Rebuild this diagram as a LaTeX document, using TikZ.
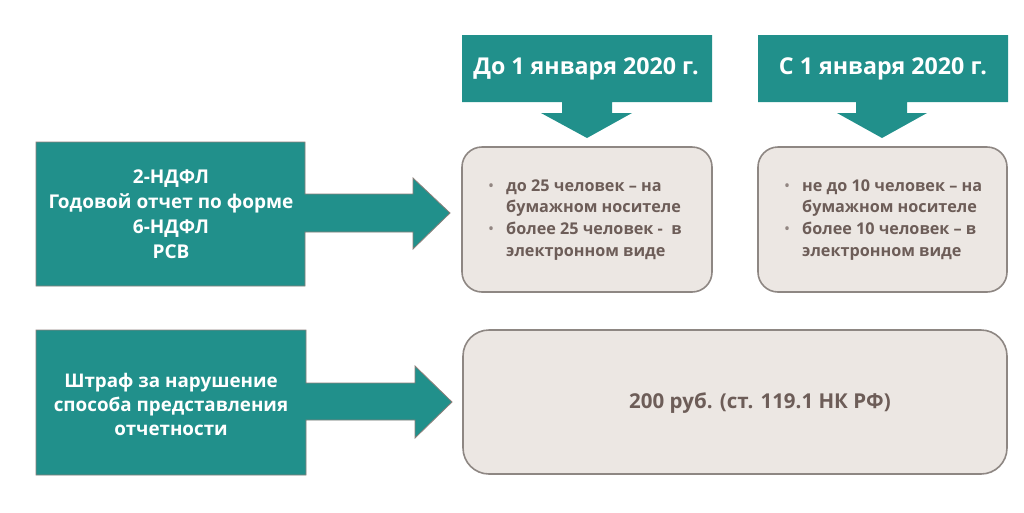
\documentclass[tikz,border=0pt]{standalone}
\usepackage{fontspec}
\setmainfont{Open Sans}
\definecolor{teal1}{HTML}{21908B}
\definecolor{tealedge}{HTML}{8C7F7A}
\definecolor{boxfill}{HTML}{ECE7E3}
\definecolor{boxedge}{HTML}{8E8783}
\definecolor{boxtext}{HTML}{6D5D58}
\tikzset{
  callout/.style={fill=teal1, draw=tealedge, line width=0.8pt, line join=miter},
  headarrow/.style={fill=teal1},
  infobox/.style={fill=boxfill, draw=boxedge, line width=1.6pt, rounded corners=20pt},
  whitetext/.style={text=white, font=\bfseries\fontsize{19}{25}\selectfont, align=center, inner sep=0pt},
  headtext/.style={text=white, font=\bfseries\fontsize{23.2}{26}\selectfont, inner sep=0pt},
  listtext/.style={text=boxtext, font=\bfseries\fontsize{16.2}{21.7}\selectfont, inner sep=0pt, anchor=west},
}
\newcommand{\bulletmark}{\textcolor{boxtext!75}{\normalfont\fontsize{16}{16}\selectfont•}}
\begin{document}
\begin{tikzpicture}[x=1pt,y=-1pt]
\useasboundingbox (0,0) rectangle (1024,512);
\fill[white] (0,0) rectangle (1024,512);

% top headers with down arrows
\fill[headarrow] (462,35) -- (712,35) -- (712,102) -- (612,102) -- (612,113) -- (632,113) -- (587,138) -- (541,113) -- (562,113) -- (562,102) -- (462,102) -- cycle;
\node[headtext] (h1) at (586,69) {До 1 января 2020 г.};
\fill[headarrow] (758,35) -- (1008,35) -- (1008,102) -- (907,102) -- (907,113) -- (927,113) -- (882,138) -- (837,113) -- (856,113) -- (856,102) -- (758,102) -- cycle;
\node[headtext] (h2) at (883,69) {С 1 января 2020 г.};

% info boxes
\draw[infobox] (462,147) rectangle (712,292);
\node[listtext] (l1) at (488,219.5) {\begin{tabular}{@{}l@{\hspace{12pt}}l@{}}
\bulletmark & до 25 человек – на\\
 & бумажном носителе\\
\bulletmark & более 25 человек -\ \ в\\
 & электронном виде
\end{tabular}};
\draw[infobox] (758,147) rectangle (1007,292);
\node[listtext] (l2) at (784,219.5) {\begin{tabular}{@{}l@{\hspace{12pt}}l@{}}
\bulletmark & не до 10 человек – на\\
 & бумажном носителе\\
\bulletmark & более 10 человек – в\\
 & электронном виде
\end{tabular}};

% left callouts
\draw[callout] (36,142) -- (305,142) -- (305,194) -- (413,194) -- (413,178) -- (450,213) -- (413,249) -- (413,232) -- (305,232) -- (305,286) -- (36,286) -- cycle;
\node[whitetext] (c1) at (171,214) {2-НДФЛ\\Годовой отчет по форме\\6-НДФЛ\\РСВ};

\draw[callout] (36,330) -- (306,330) -- (306,383) -- (415,383) -- (415,366) -- (452,402) -- (415,438) -- (415,420) -- (306,420) -- (306,475) -- (36,475) -- cycle;
\node[whitetext, font=\bfseries\fontsize{18.8}{24}\selectfont] (c2) at (171,404) {Штраф за нарушение\\способа представления\\отчетности};

\draw[infobox, rounded corners=26pt] (463,330) rectangle (1007,474);
\node[text=boxtext, font=\bfseries\fontsize{20.5}{22}\selectfont, inner sep=0pt] (r) at (760,403) {200 руб. (ст. 119.1 НК РФ)};
\end{tikzpicture}
\end{document}
